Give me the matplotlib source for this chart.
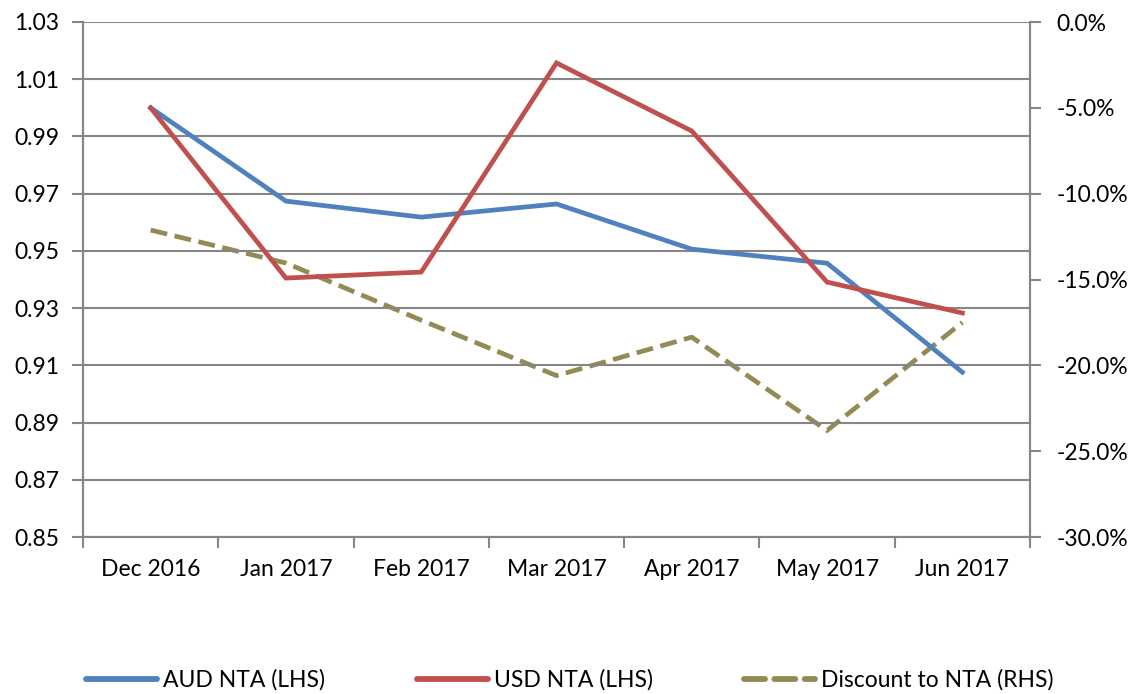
import matplotlib
matplotlib.use("Agg")
import matplotlib.pyplot as plt
from matplotlib.ticker import FuncFormatter, FixedLocator
import numpy as np

plt.rcParams['font.family'] = ['Lato', 'DejaVu Sans']

months = ["Dec 2016", "Jan 2017", "Feb 2017", "Mar 2017", "Apr 2017", "May 2017", "Jun 2017"]
aud_nta = [1.000, 0.9674, 0.9618, 0.9664, 0.9506, 0.9457, 0.9076]
usd_nta = [1.000, 0.9405, 0.9426, 1.0157, 0.9919, 0.9391, 0.9283]
discount = [-0.1212, -0.1404, -0.1737, -0.2060, -0.1836, -0.2380, -0.1750]

BLUE = "#4F81BD"
RED = "#C0504D"
OLIVE = "#948A54"
GRAY = "#868686"
FS = 16.5

fig = plt.figure(figsize=(11.35, 6.94), dpi=100)
ax = fig.add_axes([83/1135, 1-537/694, (1030-83)/1135, (537-22)/694])
ax2 = ax.twinx()

x = np.arange(len(months))
ax.plot(x, aud_nta, color=BLUE, lw=3.4, solid_joinstyle='miter', label="AUD NTA (LHS)", zorder=3)
ax.plot(x, usd_nta, color=RED, lw=3.4, solid_joinstyle='miter', label="USD NTA (LHS)", zorder=3)
ax2.plot(x, discount, color=OLIVE, lw=3.4, dashes=(3.6, 1.6), label="Discount to NTA (RHS)")

ax.set_xlim(-0.5, 6.5)
ax.set_ylim(0.85, 1.03)
ax.yaxis.set_major_locator(FixedLocator(np.arange(0.85, 1.0301, 0.02)))
ax.yaxis.set_major_formatter(FuncFormatter(lambda v, p: f"{v:.2f}"))
ax2.set_ylim(-0.30, 0.0)
ax2.yaxis.set_major_locator(FixedLocator(np.arange(-0.30, 0.0001, 0.05)))
ax2.yaxis.set_major_formatter(FuncFormatter(lambda v, p: f"{abs(v)*100:.1f}%" if abs(v) < 1e-9 else f"{v*100:.1f}%"))

ax.set_xticks(x)
ax.set_xticklabels(months)
ax.set_xticks(np.arange(-0.5, 7, 1), minor=True)
ax.tick_params(axis='x', which='major', length=0, pad=16, labelsize=FS)
ax.tick_params(axis='x', which='minor', length=8, width=1.5, color=GRAY, direction='out')
ax.tick_params(axis='y', length=8, width=1.5, color=GRAY, pad=9, labelsize=FS)
ax2.tick_params(axis='y', length=8, width=1.5, color=GRAY, pad=11, labelsize=FS)

ax.grid(axis='y', color=GRAY, lw=1.5)
ax.set_axisbelow(True)
for a in (ax, ax2):
    a.spines['top'].set_visible(False)
    for s in ('left', 'right', 'bottom'):
        a.spines[s].set_color(GRAY)
        a.spines[s].set_linewidth(1.5)
ax2.set_zorder(ax.get_zorder() - 1)
ax.patch.set_visible(False)

h1, l1 = ax.get_legend_handles_labels()
h2, l2 = ax2.get_legend_handles_labels()
leg = fig.legend(h1 + h2, l1 + l2, loc='center', bbox_to_anchor=(570/1135, 1-680/694), ncol=3,
                 frameon=False, fontsize=FS, handlelength=3.1, handletextpad=0.25, columnspacing=4.0)
for lh in leg.get_lines():
    lh.set_linewidth(4.2)
    lh.set_solid_capstyle('round')
    lh.set_dash_capstyle('round')

fig.savefig("out.png", dpi=100)
